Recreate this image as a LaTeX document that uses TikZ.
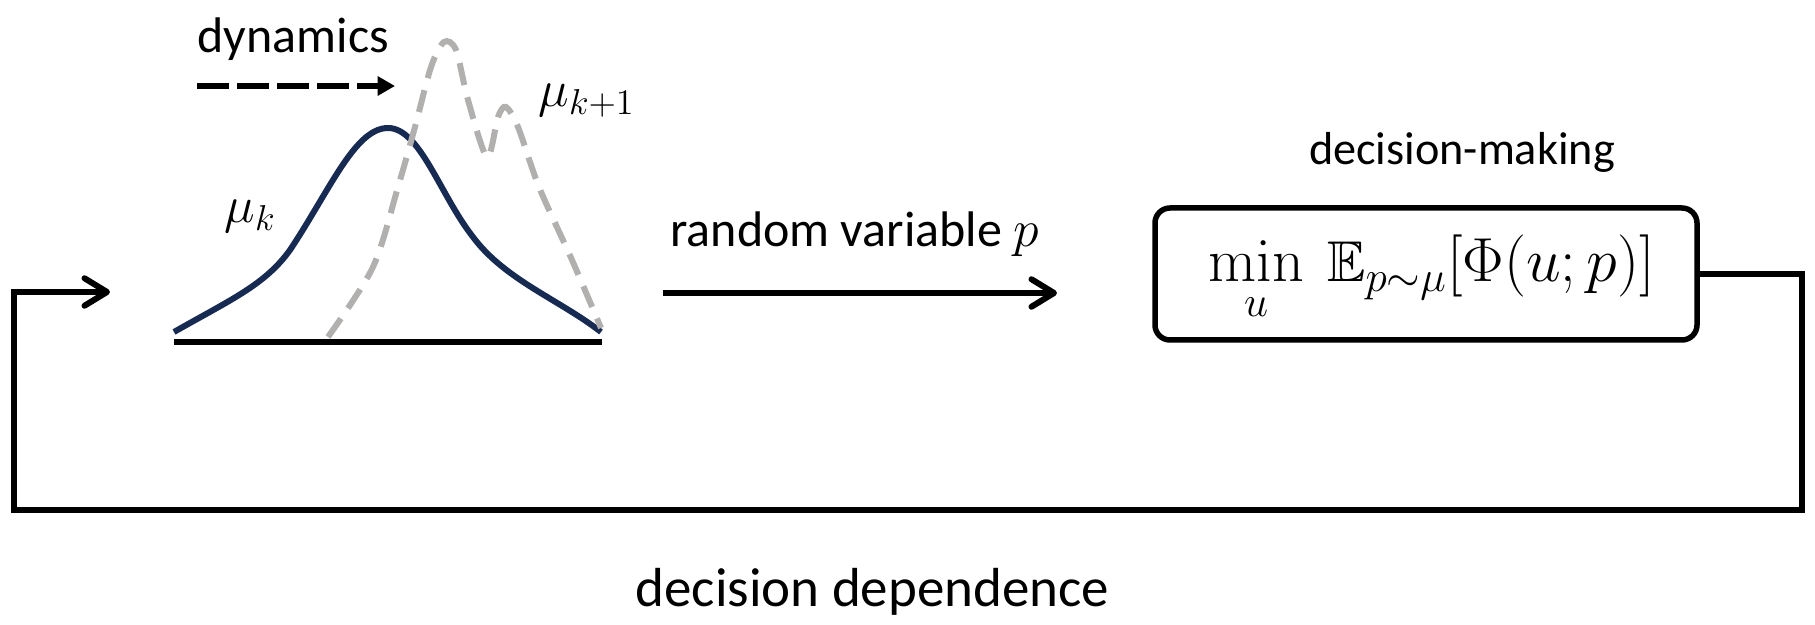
\documentclass[tikz,border=0pt]{standalone}
\usepackage{amssymb}
\usepackage[no-math]{fontspec}
\setmainfont{Carlito}
\usetikzlibrary{arrows.meta}
\definecolor{navy}{RGB}{23,43,82}
\definecolor{lgray}{RGB}{178,175,175}
\begin{document}
\begin{tikzpicture}[x=0.4pt,y=-0.4pt,
  txt/.style={font=\fontsize{20}{24}\selectfont, inner sep=0pt},
  midtxt/.style={font=\fontsize{18.5}{22}\selectfont, inner sep=0pt},
  bigtxt/.style={font=\fontsize{22}{26}\selectfont, inner sep=0pt},
  barb/.style={-{Straight Barb[length=9pt,width=11pt,line cap=round,line join=round]}},
  conn/.style={line width=2.4pt, barb},
  dynarrow/.style={line width=2.4pt, dash pattern=on 12.8pt off 3.2pt, -{Triangle[length=7pt,width=7.5pt]}},
  mucurve/.style={navy, line width=2.4pt},
  nextcurve/.style={lgray, line width=2.4pt, dash pattern=on 9pt off 5pt},
  axisline/.style={line width=2.2pt},
  decbox/.style={draw, line width=2.2pt, rounded corners=6pt, minimum width=216.8pt, minimum height=52.8pt, inner sep=0pt, font=\fontsize{23}{27}\selectfont}
]
\useasboundingbox (0,0) rectangle (1815,625);
% dynamics
\node[txt, anchor=base west] (dyn) at (197,53) {dynamics};
\coordinate (dynS) at (197,86);
\coordinate (dynE) at (395,86);
\draw[dynarrow] (dynS) -- (dynE);
% distributions
\draw[mucurve] (174,332) .. controls (230,300) and (265,285) .. (290,250)
  .. controls (330,190) and (355,128) .. (388,128)
  .. controls (420,128) and (440,195) .. (473,237)
  .. controls (505,280) and (560,300) .. (601,332);
\draw[nextcurve] plot[smooth, tension=0.5] coordinates {(328,337) (373,267) (398,187) (415,127) (431,67) (444,42) (456,50) (468,100) (487,157) (498,117) (506,107) (518,127) (539,187) (572,260) (601,328)};
\coordinate (axL) at (174,342);
\coordinate (axR) at (602,342);
\draw[axisline] (axL) -- (axR);
\node[txt, anchor=base west] (muk) at (224,223) {$\mu_k$};
\node[txt, anchor=base west] (muk1) at (538,107) {$\mu_{k+1}$};
% random variable
\node[txt, anchor=base west] (rv) at (670,247) {random variable $p$};
\coordinate (rvS) at (663,293);
\coordinate (rvE) at (1057,293);
\draw[conn] (rvS) -- (rvE);
% decision box
\node[decbox] (box) at (1426,274) {};
\node[font=\fontsize{23}{27}\selectfont, inner sep=0pt, anchor=base west] (formula) at (1208,282) {$\displaystyle \min_u\ \mathbb{E}_{p\sim\mu}[\Phi(u;p)]$};
\node[midtxt, anchor=base] (dm) at (1462,165) {decision-making};
% feedback
\coordinate (fbR) at (1802,274);
\coordinate (fbL) at (14,510);
\coordinate (fbIn) at (110,292);
\draw[conn, line join=miter] (box.east) -- (fbR) |- (fbL) |- (fbIn);
\node[bigtxt, anchor=base west] (dd) at (635,607) {decision dependence};
\end{tikzpicture}
\end{document}
